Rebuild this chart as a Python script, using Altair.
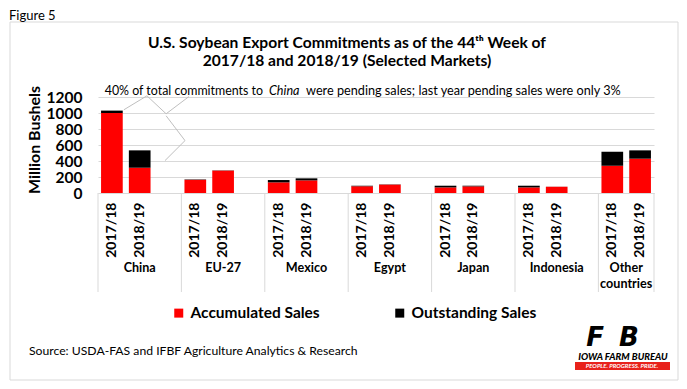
import altair as alt
import pandas as pd

# ---------------- data ----------------
markets = ["China", "EU-27", "Mexico", "Egypt", "Japan", "Indonesia", "Other countries"]
market_labels = ["China", "EU-27", "Mexico", "Egypt", "Japan", "Indonesia", "Other\ncountries"]
years = ["2017/18", "2018/19"]
series = ["Accumulated Sales", "Outstanding Sales"]
series_colors = ["#ff0000", "#000000"]

accumulated_1718 = [1000, 165, 133, 85, 70, 70, 341]
outstanding_1718 = [30, 5, 29, 6, 21, 21, 175]
accumulated_1819 = [316, 280, 158, 105, 83, 78, 429]
outstanding_1819 = [217, 3, 25, 3, 8, 1, 104]

y_ticks = [0, 200, 400, 600, 800, 1000, 1200]

# callout connector (slot units, bushel units)
callout_a_x = [0.93, 1.76, 2.45, 3.27]
callout_a_y = [1040, 1215, 990, 1205]
callout_b_x = [2.45, 3.13, 2.41]
callout_b_y = [965, 655, 405]

FONT = "Lato"

# ---------------- tables ----------------
n_slots = 3 * len(markets) - 1
slot_labels = [""] * n_slots
rows = []
for i, m in enumerate(markets):
    for j, (acc, out) in enumerate([(accumulated_1718[i], outstanding_1718[i]),
                                    (accumulated_1819[i], outstanding_1819[i])]):
        slot = 3 * i + j
        slot_labels[slot] = years[j]
        rows.append({"slot": slot, "market": m, "year": years[j], "series": series[0], "value": acc, "ord": 0})
        rows.append({"slot": slot, "market": m, "year": years[j], "series": series[1], "value": out, "ord": 1})
df = pd.DataFrame(rows)

bounds = [3 * i for i in range(len(markets))] + [n_slots]
sep_df = pd.DataFrame({"pos": bounds})
grp_df = pd.DataFrame({
    "center": [(bounds[i] + bounds[i + 1]) / 2 for i in range(len(markets))],
    "label": market_labels,
})
call_a = pd.DataFrame({"px": callout_a_x, "py": callout_a_y, "i": range(len(callout_a_x))})
call_b = pd.DataFrame({"px": callout_b_x, "py": callout_b_y, "i": range(len(callout_b_x))})
one = pd.DataFrame({"k": [0]})

label_expr = "[" + ",".join("'" + s + "'" for s in slot_labels) + "][datum.value]"

W, H = 556, 96
xlin = alt.Scale(domain=[0, n_slots], nice=False, zero=False)
yscale = alt.Scale(domain=[0, 1200], nice=False)
y_axis = alt.Axis(title=None, values=y_ticks, format="d", grid=True, gridColor="#d9d9d9",
                  domain=False, ticks=False, labelPadding=16, labelFont=FONT,
                  labelFontSize=15.5, labelFontWeight="bold", labelColor="black")

# ---------------- layers ----------------
border = alt.Chart(one).mark_rect(filled=False, stroke="#d9d9d9", strokeWidth=1).encode(
    x=alt.value(-88), x2=alt.value(580), y=alt.value(-75), y2=alt.value(283))

def txt(text, x, y, size, weight="normal", style="normal", align="left", color="black",
        baseline="alphabetic", angle=0, font=FONT):
    kw = dict(font=font, fontSize=size, fontWeight=weight, fontStyle=style, align=align,
              color=color, baseline=baseline)
    if angle:
        kw["angle"] = angle
    return alt.Chart(one).mark_text(**kw).encode(
        x=alt.value(x), y=alt.value(y), text=alt.value(text))

bars = alt.Chart(df).mark_bar().encode(
    x=alt.X("slot:O",
            scale=alt.Scale(domain=list(range(n_slots)), paddingInner=0.22, paddingOuter=0.11),
            axis=alt.Axis(title=None, labelExpr=label_expr, labelAngle=270, labelAlign="right",
                          labelBaseline="middle", labelPadding=9, ticks=False,
                          domainColor="#d9d9d9", labelFont=FONT, labelFontSize=14,
                          labelFontWeight="bold", labelColor="black", labelOverlap=False)),
    y=alt.Y("value:Q", stack="zero", scale=yscale, axis=y_axis),
    color=alt.Color("series:N", scale=alt.Scale(domain=series, range=series_colors),
                    legend=alt.Legend(title=None, orient="none", legendX=73, legendY=208,
                                      direction="horizontal", symbolType="square",
                                      symbolSize=81, symbolStrokeWidth=0, labelFont=FONT,
                                      labelFontSize=15.5, labelFontWeight="bold",
                                      labelColor="black", columnPadding=72, labelOffset=4,
                                      padding=0, labelLimit=300)),
    order=alt.Order("ord:Q"),
)

seps = alt.Chart(sep_df).mark_rule(color="#d9d9d9", strokeWidth=1).encode(
    x=alt.X("pos:Q", scale=xlin, axis=None),
    y=alt.value(96), y2=alt.value(195))

groups = alt.Chart(grp_df).mark_text(font=FONT, fontSize=12.6, fontWeight="bold",
                                     baseline="alphabetic", lineBreak="\n", lineHeight=16.5,
                                     color="black").encode(
    x=alt.X("center:Q", scale=xlin, axis=None),
    y=alt.value(174.5), text="label:N")

callout1 = alt.Chart(call_a).mark_line(color="#bfbfbf", strokeWidth=1).encode(
    x=alt.X("px:Q", scale=xlin, axis=None),
    y=alt.Y("py:Q", scale=yscale, axis=y_axis), order="i:Q")
callout2 = alt.Chart(call_b).mark_line(color="#bfbfbf", strokeWidth=1).encode(
    x=alt.X("px:Q", scale=xlin, axis=None),
    y=alt.Y("py:Q", scale=yscale, axis=y_axis), order="i:Q")

texts = [
    txt("Figure 5", -89, -77, 13),
    txt("U.S. Soybean Export Commitments as of the 44ᵗʰ Week of", 249, -49.5, 15.6, "bold", align="center"),
    txt("2017/18 and 2018/19 (Selected Markets)", 249, -31.5, 15.6, "bold", align="center"),
    txt("40% of total commitments to", 165, -1.7, 12.4, align="right"),
    txt("China", 171, -1.7, 12.6, style="italic"),
    txt("were pending sales; last year pending sales were only 3%", 208, -1.7, 12.7),
    txt("Million Bushels", -63, 43, 16, "bold", align="center", baseline="middle", angle=270),
    txt("Source: USDA-FAS and IFBF Agriculture Analytics & Research", -69, 258, 12.2),
]

logo_bar = alt.Chart(one).mark_rect(fill="#e8221b").encode(
    x=alt.value(477), x2=alt.value(572), y=alt.value(265), y2=alt.value(273))
logo = [
    txt("F", 497, 249, 26, "bold", style="italic", align="center", font="DejaVu Sans"),
    txt("B", 531, 249, 26, "bold", style="italic", align="center", font="DejaVu Sans"),
    txt("IOWA FARM BUREAU", 525, 263, 9.5, 900, style="italic", align="center"),
    logo_bar,
    txt("PEOPLE. PROGRESS. PRIDE.", 524, 271.3, 6, "bold", style="italic", align="center", color="white"),
]

chart = alt.layer(border, bars, seps, groups, callout1, callout2, *texts, *logo).resolve_scale(
    x="independent"
).properties(
    width=W, height=H, autosize="none",
    padding={"left": 90, "top": 89, "right": 25, "bottom": 188},
).configure_view(stroke=None)

chart.save("out.html", embed_options={"renderer": "svg", "actions": False})
